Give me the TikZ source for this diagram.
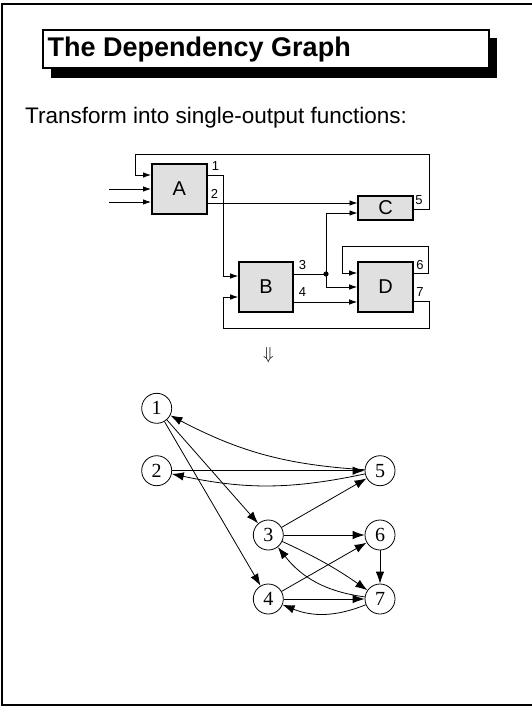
\documentclass[tikz,border=0pt]{standalone}
\usepackage{fontspec}
\setmainfont{Liberation Sans}
\newfontfamily\serifnum{Liberation Serif}
\usetikzlibrary{arrows.meta}
\begin{document}
\begin{tikzpicture}[x=1pt,y=-1pt,
  blk/.style={draw, line width=1.6pt, fill=black!12, inner sep=0pt, font=\fontsize{20}{20}\selectfont},
  wire/.style={line width=0.8pt},
  warr/.style={wire, -{Latex[length=8pt,width=5.5pt]}},
  lbl/.style={inner sep=0pt, font=\fontsize{13}{13}\selectfont},
  gnode/.style={circle, draw, line width=0.8pt, minimum size=30pt, inner sep=0pt, font=\serifnum\fontsize{20}{20}\selectfont},
  garr/.style={line width=0.8pt, -{Latex[length=12pt,width=8.5pt]}}
]
\useasboundingbox (0,0) rectangle (532,707);
% frame
\draw[line width=2pt] (534,4) -- (1.5,4) -- (1.5,704.5) -- (534,704.5);
% title
\fill (51,38) rectangle (497,77.5);
\node[draw, line width=1.6pt, fill=white, minimum width=446pt, minimum height=38pt, anchor=north west, inner sep=0pt] (title) at (42,29) {};
\node[anchor=base west, inner sep=0pt, font=\bfseries\fontsize{27}{27}\selectfont] (ttext) at (47.5,56) {The Dependency Graph};
\node[anchor=base west, inner sep=0pt, font=\fontsize{22.5}{22.5}\selectfont] (sub) at (25,123) {Transform into single-output functions:};
% blocks
\node[blk, minimum width=55pt, minimum height=50pt] (A) at (179.2,189) {A};
\node[blk, minimum width=54.5pt, minimum height=24pt] (C) at (385.5,208) {C};
\node[blk, minimum width=54pt, minimum height=50pt] (B) at (266,287) {B};
\node[blk, minimum width=55pt, minimum height=50pt] (D) at (385.5,287) {D};
% ports
\coordinate (Ain1) at (151,175);
\coordinate (Ain2) at (151,189);
\coordinate (Ain3) at (151,202);
\coordinate (Aout1) at (207,175);
\coordinate (Aout2) at (207,203);
\coordinate (Cin1) at (357.5,203);
\coordinate (Cin2) at (357.5,213);
\coordinate (Cout) at (413.5,209);
\coordinate (Bin1) at (238.2,276);
\coordinate (Bin2) at (238.2,297);
\coordinate (Bout3) at (293.5,274);
\coordinate (Bout4) at (293.5,302);
\coordinate (Din1) at (357.2,273);
\coordinate (Din2) at (357.2,287);
\coordinate (Din3) at (357.2,302);
\coordinate (Dout6) at (413.5,273);
\coordinate (Dout7) at (413.5,301);
\coordinate (in2) at (109,189);
\coordinate (in3) at (109,202);
\coordinate (J) at (326,274);
% wires
\draw[warr] (in2) -- (Ain2);
\draw[warr] (in3) -- (Ain3);
\draw[warr] (Cout) -| (429,154.5) -| (135.7,175) -- (Ain1);
\draw[warr] (Aout1) -| (223,276) -- (Bin1);
\draw[warr] (Aout2) -- (Cin1);
\draw[wire] (Bout3) -- (J);
\fill (J) circle (2.6pt);
\draw[warr] (J) |- (Cin2);
\draw[warr] (J) |- (Din2);
\draw[warr] (Bout4) -- (Din3);
\draw[warr] (Dout6) -| (428.5,246) -| (342,273) -- (Din1);
\draw[warr] (Dout7) -| (429,328) -| (223,297) -- (Bin2);
% labels
\node[lbl] (l1) at (215.5,166) {1};
\node[lbl] (l2) at (214.5,193.5) {2};
\node[lbl] (l3) at (302.5,265.5) {3};
\node[lbl] (l4) at (302.5,292) {4};
\node[lbl] (l5) at (419,200) {5};
\node[lbl] (l6) at (420,265.5) {6};
\node[lbl] (l7) at (420,292) {7};
% arrow
\node[inner sep=0pt, font=\fontsize{19}{19}\selectfont] (darr) at (268.5,355) {$\Downarrow$};
% graph
\node[gnode] (n1) at (156.7,408.3) {1};
\node[gnode] (n2) at (156.7,470.7) {2};
\node[gnode] (n5) at (380,470.7) {5};
\node[gnode] (n3) at (268.3,535) {3};
\node[gnode] (n6) at (380,535) {6};
\node[gnode] (n4) at (268.3,599) {4};
\node[gnode] (n7) at (380,599) {7};
\draw[garr] (n1) -- (n3);
\draw[garr] (n1) -- (n4);
\draw[garr] (n2) -- (n5);
\draw[garr] (n5) to[bend left=12] (n1);
\draw[garr] (n5) to[bend left=12] (n2);
\draw[garr] (n3) -- (n5);
\draw[garr] (n3) -- (n6);
\draw[garr] (n3) to[bend left=5] (n7);
\draw[garr] (n7) to[bend left=22] (n3);
\draw[garr] (n4) -- (n6);
\draw[garr] (n4) -- (n7);
\draw[garr] (n7) to[bend left=22] (n4);
\draw[garr] (n6) -- (n7);
\end{tikzpicture}
\end{document}
